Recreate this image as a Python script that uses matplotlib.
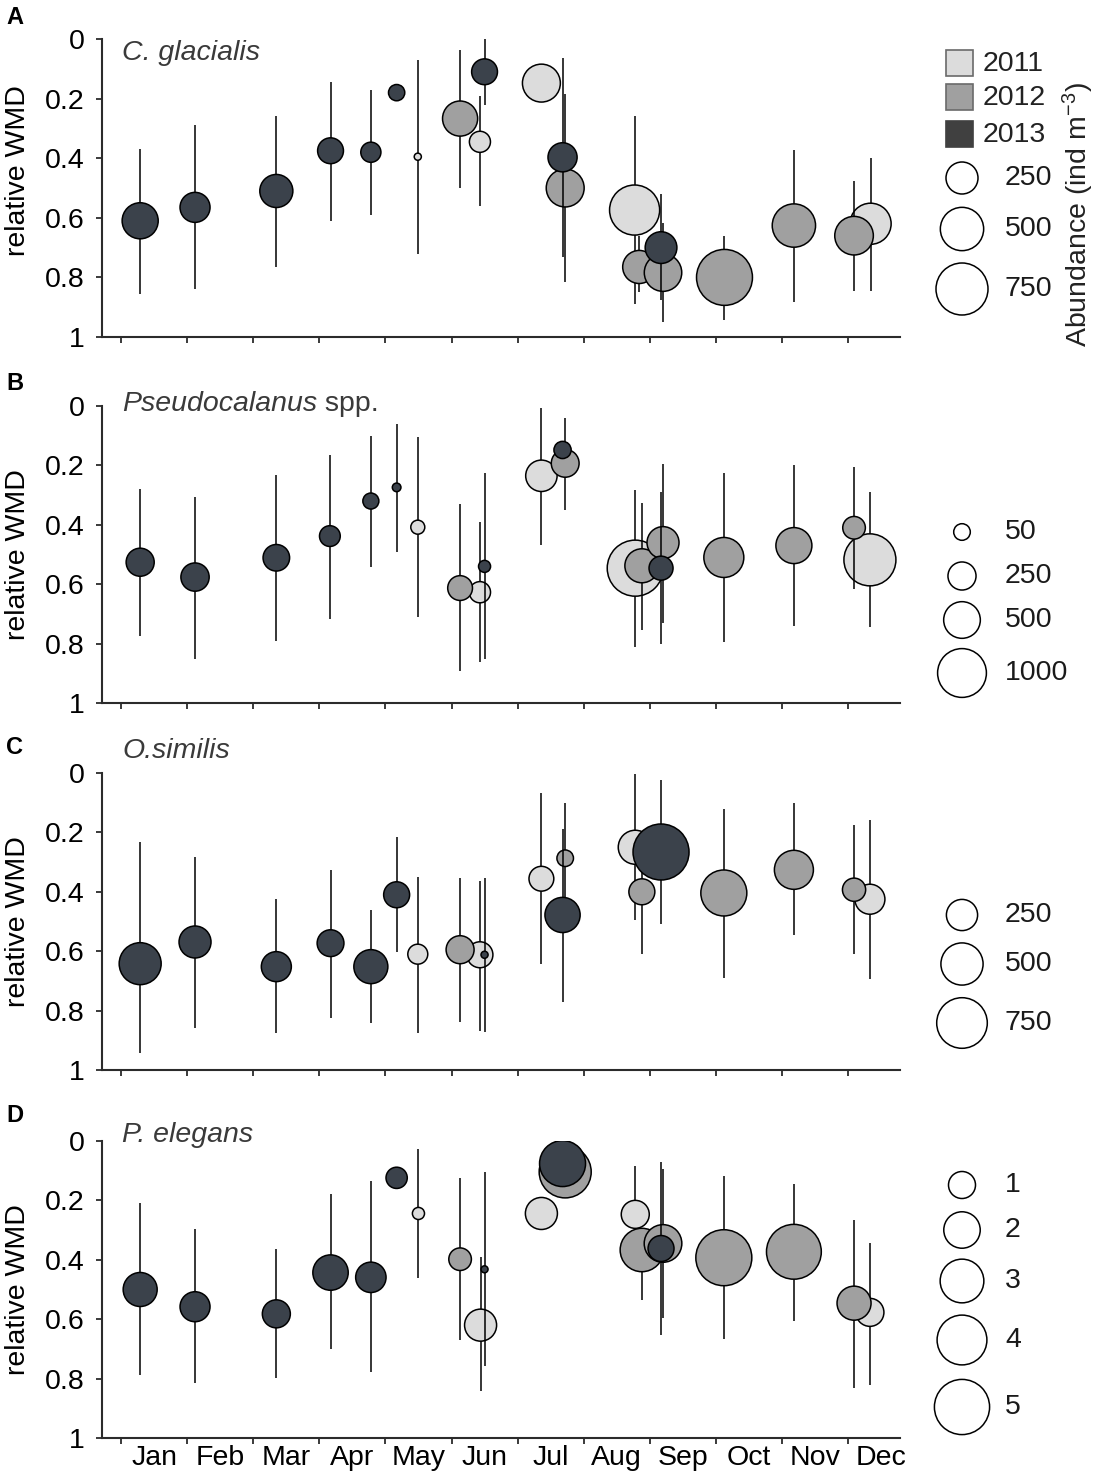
import numpy as np
import matplotlib.pyplot as plt
from matplotlib.patches import Rectangle

plt.rcParams['font.family'] = ['Liberation Sans', 'DejaVu Sans']
plt.rcParams['mathtext.fontset'] = 'custom'
plt.rcParams['mathtext.rm'] = 'Liberation Sans'
plt.rcParams['mathtext.it'] = 'Liberation Sans:italic'

W, H, DPI = 1096, 1477, 100
PT = 72 / DPI

months = ['Jan', 'Feb', 'Mar', 'Apr', 'May', 'Jun', 'Jul', 'Aug', 'Sep', 'Oct', 'Nov', 'Dec']
wmd_ticks = [0, 0.2, 0.4, 0.6, 0.8, 1]
wmd_ticklabels = ['0', '0.2', '0.4', '0.6', '0.8', '1']
years = [2011, 2012, 2013]
year_colors = {2011: '#dcdcdc', 2012: '#a0a0a0', 2013: '#3b424b'}
nan = np.nan

# ---- A: C. glacialis ----
A_year = [2013, 2013, 2013, 2013, 2013, 2013, 2011, 2012, 2011, 2013, 2011,
          2013, 2012, 2011, 2012, 2012, 2013, 2012, 2012, 2012, 2011]
A_month = [0.29, 1.12, 2.35, 3.17, 3.78, 4.17, 4.49, 5.13, 5.43, 5.50, 6.36,
           6.68, 6.72, 7.77, 7.84, 8.20, 8.17, 9.13, 10.18, 11.09, 11.34]
A_wmd = [0.61, 0.565, 0.51, 0.375, 0.38, 0.18, 0.395, 0.267, 0.345, 0.11, 0.148,
         0.397, 0.50, 0.574, 0.765, 0.784, 0.70, 0.80, 0.626, 0.66, 0.62]
A_lo = [0.37, 0.29, 0.26, 0.145, 0.17, nan, 0.07, 0.036, 0.19, 0.0, nan,
        0.064, 0.185, 0.26, 0.66, 0.617, 0.52, 0.66, 0.372, 0.476, 0.40]
A_hi = [0.855, 0.84, 0.765, 0.61, 0.59, nan, 0.72, 0.50, 0.56, 0.22, nan,
        0.73, 0.815, 0.89, 0.85, 0.95, 0.877, 0.944, 0.882, 0.845, 0.845]
A_abund = [330, 215, 270, 150, 80, 45, 2, 310, 90, 150, 370,
           200, 370, 690, 270, 360, 245, 880, 500, 385, 445]

# ---- B: Pseudocalanus spp. ----
B_year = [2013, 2013, 2013, 2013, 2013, 2013, 2011, 2012, 2011, 2013, 2011,
          2012, 2013, 2011, 2012, 2012, 2013, 2012, 2012, 2012, 2011]
B_month = [0.29, 1.12, 2.35, 3.16, 3.78, 4.17, 4.49, 5.13, 5.43, 5.50, 6.36,
           6.72, 6.68, 7.78, 7.88, 8.20, 8.17, 9.12, 10.18, 11.09, 11.33]
B_wmd = [0.526, 0.576, 0.511, 0.438, 0.32, 0.274, 0.408, 0.613, 0.627, 0.54, 0.235,
         0.193, 0.148, 0.546, 0.538, 0.46, 0.546, 0.51, 0.47, 0.41, 0.518]
B_lo = [0.279, 0.306, 0.232, 0.165, 0.10, 0.06, 0.105, 0.33, 0.39, 0.226, 0.008,
        0.04, nan, 0.283, 0.325, 0.195, 0.29, 0.226, 0.20, 0.207, 0.288]
B_hi = [0.776, 0.852, 0.79, 0.717, 0.543, 0.49, 0.71, 0.893, 0.863, 0.852, 0.467,
        0.35, nan, 0.81, 0.753, 0.73, 0.80, 0.796, 0.742, 0.617, 0.744]
B_abund = [250, 255, 215, 105, 44, 1, 26, 177, 112, 13, 337,
           244, 57, 1380, 413, 354, 162, 620, 478, 136, 1160]

# ---- C: O. similis ----
C_year = [2013, 2013, 2013, 2013, 2013, 2013, 2011, 2012, 2011, 2013, 2011,
          2012, 2013, 2011, 2012, 2013, 2012, 2012, 2012, 2011]
C_month = [0.29, 1.12, 2.35, 3.17, 3.78, 4.17, 4.49, 5.13, 5.43, 5.50, 6.36,
           6.72, 6.68, 7.78, 7.88, 8.17, 9.12, 10.18, 11.09, 11.33]
C_wmd = [0.642, 0.569, 0.652, 0.573, 0.652, 0.41, 0.61, 0.595, 0.612, 0.612, 0.356,
         0.287, 0.478, 0.25, 0.40, 0.266, 0.404, 0.326, 0.393, 0.425]
C_lo = [0.233, 0.284, 0.425, 0.326, 0.46, 0.216, 0.35, 0.354, 0.362, 0.354, 0.067,
        0.10, 0.19, 0.003, 0.30, 0.022, 0.121, 0.10, 0.176, 0.157]
C_hi = [0.944, 0.86, 0.876, 0.826, 0.843, 0.604, 0.874, 0.837, 0.868, 0.873, 0.643,
        0.45, 0.77, 0.494, 0.61, 0.508, 0.689, 0.547, 0.61, 0.693]
C_abund = [495, 265, 228, 174, 306, 161, 83, 193, 161, 2, 144,
           50, 331, 306, 161, 937, 607, 419, 122, 228]

# ---- D: P. elegans ----
D_year = [2013, 2013, 2013, 2013, 2013, 2013, 2011, 2012, 2011, 2013, 2011,
          2012, 2013, 2011, 2012, 2012, 2013, 2012, 2012, 2012, 2011]
D_month = [0.29, 1.12, 2.35, 3.17, 3.78, 4.17, 4.50, 5.13, 5.44, 5.50, 6.36,
           6.72, 6.68, 7.78, 7.88, 8.20, 8.17, 9.12, 10.18, 11.09, 11.33]
D_wmd = [0.50, 0.558, 0.582, 0.443, 0.459, 0.124, 0.244, 0.398, 0.62, 0.432, 0.244,
         0.104, 0.076, 0.247, 0.367, 0.345, 0.362, 0.393, 0.373, 0.546, 0.577]
D_lo = [0.208, 0.297, 0.362, 0.18, 0.135, nan, 0.026, 0.123, 0.392, 0.104, nan,
        nan, nan, 0.085, 0.30, 0.093, 0.07, 0.118, 0.146, 0.267, 0.342]
D_hi = [0.787, 0.815, 0.798, 0.70, 0.778, nan, 0.462, 0.67, 0.843, 0.757, nan,
        nan, nan, 0.40, 0.537, 0.597, 0.653, 0.667, 0.605, 0.83, 0.82]
D_abund = [1.71, 1.28, 1.09, 1.87, 1.32, 0.56, 0.12, 0.65, 1.49, 0.015, 1.49,
           4.4, 3.36, 1.09, 2.96, 2.15, 0.91, 5.16, 4.93, 1.71, 1.09]

# legend abundance keys
A_keys = [250, 500, 750]
B_keys = [50, 250, 500, 1000]
C_keys = [250, 500, 750]
D_keys = [1, 2, 3, 4, 5]

panels = [
    dict(letter='A', species=[('C. glacialis', 'italic')], top=39, bot=337,
         year=A_year, month=A_month, wmd=A_wmd, lo=A_lo, hi=A_hi, n=A_abund,
         size=(2.34, 0.864), keys=A_keys, key_y=[178, 229, 289], lab_y=18, sp_y=60, ylab=0.557),
    dict(letter='B', species=[('Pseudocalanus', 'italic'), (' spp.', 'normal')], top=406, bot=703,
         year=B_year, month=B_month, wmd=B_wmd, lo=B_lo, hi=B_hi, n=B_abund,
         size=(3.66, 0.656), keys=B_keys, key_y=[532, 576, 620, 673], lab_y=383, sp_y=411, ylab=0.5),
    dict(letter='C', species=[('O.similis', 'italic')], top=773, bot=1070,
         year=C_year, month=C_month, wmd=C_wmd, lo=C_lo, hi=C_hi, n=C_abund,
         size=(2.35, 0.838), keys=C_keys, key_y=[915, 964, 1023], lab_y=748, sp_y=758, ylab=0.5),
    dict(letter='D', species=[('P. elegans', 'italic')], top=1141, bot=1438,
         year=D_year, month=D_month, wmd=D_wmd, lo=D_lo, hi=D_hi, n=D_abund,
         size=(2.1, 11.4), keys=D_keys, key_y=[1185, 1230, 1281, 1340, 1407], lab_y=1116, sp_y=1142, ylab=0.5),
]

AX_L, AX_R = 102, 900
TICK0, TICKSTEP = 121, 66.1
FS = 20.5
AXC = '#2b2b2b'


def marker_area(n, ab):
    r = ab[0] + ab[1] * np.sqrt(np.asarray(n, dtype=float))
    return (2 * r * PT) ** 2


fig = plt.figure(figsize=(W / DPI, H / DPI), dpi=DPI)
over = fig.add_axes([0, 0, 1, 1])
over.set_xlim(0, W)
over.set_ylim(H, 0)
over.axis('off')
over.set_zorder(10)

for i, p in enumerate(panels):
    ax = fig.add_axes([AX_L / W, 1 - p['bot'] / H, (AX_R - AX_L) / W, (p['bot'] - p['top']) / H])
    ax.set_xlim((AX_L - TICK0) / TICKSTEP, (AX_R - TICK0) / TICKSTEP)
    ax.set_ylim(1, 0)
    yr = np.array(p['year'])
    mo = np.array(p['month'])
    wm = np.array(p['wmd'])
    lo = np.array(p['lo'])
    hi = np.array(p['hi'])
    nn = np.array(p['n'])
    for k, y in enumerate(years):
        m = yr == y
        ok = m & ~np.isnan(lo)
        ax.vlines(mo[ok], lo[ok], hi[ok], color='black', lw=1.1, zorder=2 + 2 * k)
        ax.scatter(mo[m], wm[m], s=marker_area(nn[m], p['size']), c=year_colors[y],
                   edgecolors='black', linewidths=1.1, zorder=3 + 2 * k)

    for s in ['top', 'right']:
        ax.spines[s].set_visible(False)
    ax.spines['left'].set_bounds(0, 1)
    for s in ['left', 'bottom']:
        ax.spines[s].set_color(AXC)
        ax.spines[s].set_linewidth(1.5)
    ax.set_yticks(wmd_ticks)
    ax.set_yticklabels(wmd_ticklabels)
    ax.set_xticks(np.arange(12))
    ax.set_xticklabels([])
    ax.tick_params(axis='both', which='major', direction='out', length=4.5, width=1.3,
                   color=AXC, labelsize=FS, pad=3)
    ax.tick_params(axis='y', which='major', pad=8)
    if p['letter'] == 'D':
        ax.set_xticks(np.arange(12) + 0.5, minor=True)
        ax.set_xticklabels(months, minor=True)
        ax.tick_params(axis='x', which='minor', length=0, labelsize=FS, pad=5)
    ax.set_ylabel('relative WMD', fontsize=FS)
    ax.yaxis.set_label_coords((31 - AX_L) / (AX_R - AX_L), p['ylab'])

    # panel letter and species name
    over.text(6, p['lab_y'], p['letter'], fontsize=17, fontweight='bold', va='center', ha='left')
    x = 122
    for txt, style in p['species']:
        t = over.text(x, p['sp_y'], txt, fontsize=FS, style=style, color='#3a3a3a',
                      va='baseline', ha='left')
        fig.canvas.draw()
        x += t.get_window_extent().width

    # size legend
    over.scatter([962] * len(p['keys']), p['key_y'], s=marker_area(p['keys'], p['size']),
                 facecolors='white', edgecolors='black', linewidths=1.1, clip_on=False)
    for v, ky in zip(p['keys'], p['key_y']):
        over.text(1005, ky, str(v), fontsize=FS, va='center', ha='left', color='#1a1a1a')

# year legend
sq_y = [50, 84, 121]
sq_edge = {2011: '#6a6a6a', 2012: '#6a6a6a', 2013: '#404040'}
for y, top in zip(years, sq_y):
    face = year_colors[y] if y != 2013 else '#404040'
    over.add_patch(Rectangle((946, top), 27, 26, facecolor=face, edgecolor=sq_edge[y], lw=1.2))
    over.text(983, top + 14, str(y), fontsize=FS, va='center', ha='left', color='#222222')

over.text(1078, 215, r'Abundance (ind m$^{-3}$)', fontsize=FS, rotation=90,
          va='center', ha='center', color='#222222')

fig.savefig('out.png', dpi=DPI)
